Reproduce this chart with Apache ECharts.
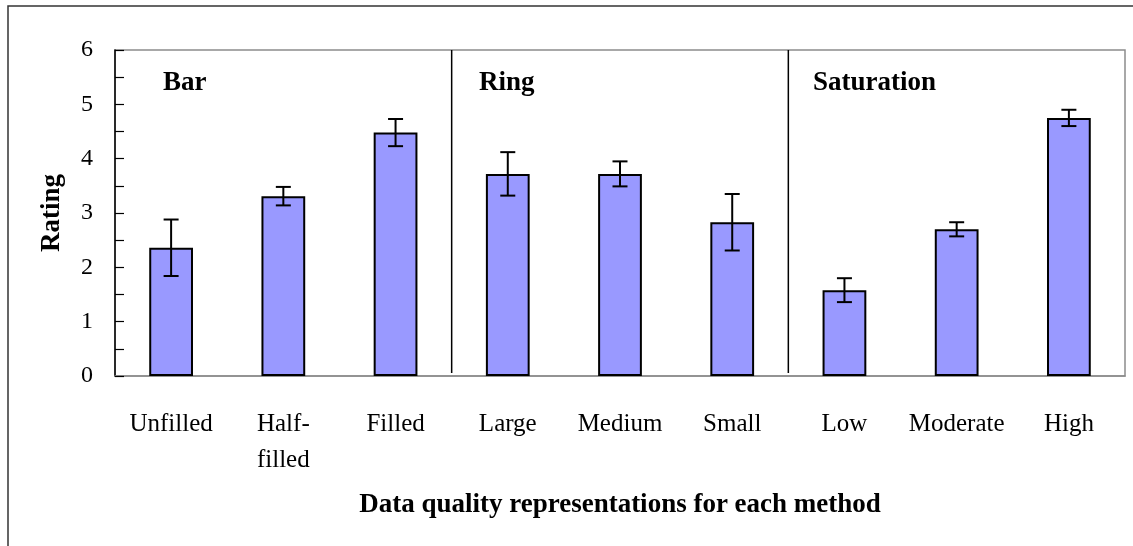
<!DOCTYPE html>
<html>
<head>
<meta charset="utf-8">
<script src="https://cdn.jsdelivr.net/npm/echarts@6/dist/echarts.min.js"></script>
<style>
html,body{margin:0;padding:0;background:#fff;}
#chart{width:1133px;height:546px;}
</style>
</head>
<body>
<div id="chart"></div>
<script>
const categories = ['Unfilled', 'Half-\nfilled', 'Filled', 'Large', 'Medium', 'Small', 'Low', 'Moderate', 'High'];
const ratings = [2.36, 3.31, 4.48, 3.72, 3.72, 2.83, 1.58, 2.70, 4.75];
const errors = [0.52, 0.17, 0.25, 0.40, 0.23, 0.52, 0.22, 0.13, 0.15];
const groupNames = ['Bar', 'Ring', 'Saturation'];
const dividerAfter = [2, 5];
const yMin = 0, yMax = 6, yStep = 0.5;

const serif = '"Liberation Serif", "Times New Roman", serif';

const errData = ratings.map((v, i) => [i, v - errors[i], v + errors[i]]);
const dividerData = dividerAfter.map(c => [c, yMin]);

const chart = echarts.init(document.getElementById('chart'), null, {renderer: 'canvas'});
chart.setOption({
  animation: false,
  backgroundColor: '#fff',
  grid: {left: 115, right: 8, top: 50, bottom: 170, show: true, borderColor: '#8c8c8c', borderWidth: 1.5, containLabel: false},
  xAxis: {
    type: 'category',
    data: categories,
    name: 'Data quality representations for each method',
    nameLocation: 'middle',
    nameGap: 116,
    nameTextStyle: {fontFamily: serif, fontWeight: 'bold', fontSize: 27, color: '#000'},
    axisLine: {show: true, lineStyle: {color: '#8c8c8c', width: 1.5}},
    axisTick: {show: false},
    axisLabel: {fontFamily: serif, fontSize: 25, color: '#000', margin: 30, lineHeight: 36, interval: 0},
    splitLine: {show: false}
  },
  yAxis: {
    type: 'value',
    min: yMin, max: yMax, interval: yStep,
    name: 'Rating',
    nameLocation: 'middle',
    nameGap: 49,
    nameTextStyle: {fontFamily: serif, fontWeight: 'bold', fontSize: 27, color: '#000'},
    axisLine: {show: true, lineStyle: {color: '#000', width: 1.5}},
    axisTick: {show: true, inside: true, length: 9, lineStyle: {color: '#000', width: 1.2}},
    axisLabel: {fontFamily: serif, fontSize: 24, color: '#000', margin: 22,
      formatter: v => Number.isInteger(v) ? String(v) : ''},
    splitLine: {show: false}
  },
  graphic: [
    {type: 'rect', shape: {x: 8, y: 6, width: 1300, height: 700}, style: {fill: 'none', stroke: '#333', lineWidth: 1.5}, silent: true, z: 0},
    {type: 'text', left: 163, top: 70, style: {text: groupNames[0], font: 'bold 27px ' + serif, fill: '#000'}},
    {type: 'text', left: 479, top: 70, style: {text: groupNames[1], font: 'bold 27px ' + serif, fill: '#000'}},
    {type: 'text', left: 813, top: 70, style: {text: groupNames[2], font: 'bold 27px ' + serif, fill: '#000'}}
  ],
  series: [
    {
      type: 'bar',
      data: ratings,
      barWidth: '39%',
      itemStyle: {color: '#9999ff', borderColor: '#000', borderWidth: 2},
      z: 2
    },
    {
      type: 'custom',
      data: errData,
      z: 3,
      renderItem: function (params, api) {
        const x = api.value(0);
        const lo = api.coord([x, api.value(1)]);
        const hi = api.coord([x, api.value(2)]);
        const cap = 7.5;
        const st = {stroke: '#000', lineWidth: 2};
        return {type: 'group', children: [
          {type: 'line', shape: {x1: lo[0], y1: lo[1], x2: hi[0], y2: hi[1]}, style: st},
          {type: 'line', shape: {x1: lo[0] - cap, y1: lo[1], x2: lo[0] + cap, y2: lo[1]}, style: st},
          {type: 'line', shape: {x1: hi[0] - cap, y1: hi[1], x2: hi[0] + cap, y2: hi[1]}, style: st}
        ]};
      }
    },
    {
      type: 'custom',
      data: dividerData,
      z: 3,
      renderItem: function (params, api) {
        const c = api.value(0);
        const band = api.size([1, 0])[0];
        const top = api.coord([c, yMax]);
        const bot = api.coord([c, yMin]);
        const x = top[0] + band / 2;
        return {type: 'line', shape: {x1: x, y1: top[1], x2: x, y2: bot[1] - 3}, style: {stroke: '#000', lineWidth: 1.5}};
      }
    }
  ]
});
</script>
</body>
</html>
